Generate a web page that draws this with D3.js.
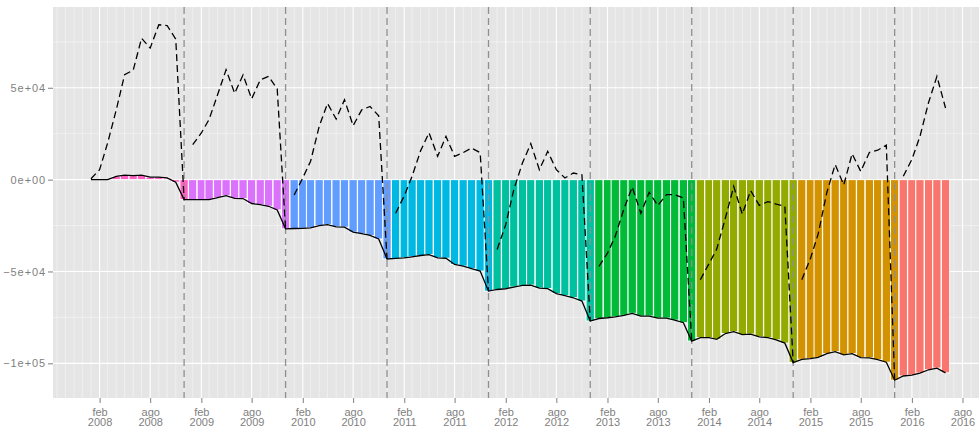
<!DOCTYPE html>
<html>
<head>
<meta charset="utf-8">
<script src="https://cdn.jsdelivr.net/npm/d3@7"></script>
<style>
  body { margin: 0; background: #fff; }
  svg { display: block; font-family: "Liberation Sans", Arial, sans-serif; }
</style>
</head>
<body>
<div id="chart"></div>
<script>
// one colour per year (ggplot hue palette, reversed)
const years = [2008, 2009, 2010, 2011, 2012, 2013, 2014, 2015, 2016];
const yearColors = ['#FF61C3', '#DB72FB', '#619CFF', '#00B9E3', '#00C19F', '#00BA38', '#93AA00', '#D39200', '#F8766D'];
const monthAbbr = ['ene', 'feb', 'mar', 'abr', 'may', 'jun', 'jul', 'ago', 'sep', 'oct', 'nov', 'dic'];

// monthly balance, Jan 2008 .. Jun 2016 (bars + solid line)
const balance = [
    0, 0, 0, 1800, 2500, 2200, 2500, 1400, 1400, 900, -1400, -10900,
    -10900, -10900, -10900, -9800, -8700, -10200, -10300, -13000, -13600, -14500, -16500, -26800,
    -26600, -26500, -26300, -25000, -24500, -25700, -25900, -28600, -29400, -30400, -32300, -43200,
    -42900, -42600, -42000, -41300, -40800, -42600, -42800, -46200, -47100, -48400, -49800, -60700,
    -59800, -59400, -58500, -57600, -57400, -59100, -59300, -62000, -63100, -64300, -66100, -77000,
    -75600, -75200, -74700, -73900, -72800, -74300, -74300, -75400, -75400, -76500, -77900, -87900,
    -86000, -86000, -86900, -83800, -82800, -84400, -84100, -85600, -86000, -87200, -89000, -99600,
    -97800, -97400, -96800, -94700, -93600, -95400, -94700, -96900, -97000, -98000, -99400, -109200,
    -106900, -106400, -105300, -103500, -102600, -105200
];

// within-year running figure (dashed line), same months
const yearRun = [
    500, 5400, 20000, 38000, 57100, 59600, 77000, 71600, 84300, 83900, 76500, -10900,
    19000, 25400, 32800, 46500, 59800, 47000, 57000, 44000, 54300, 56200, 49300, -26800,
    -8400, 1000, 10000, 29000, 41500, 33000, 43500, 29400, 38000, 39800, 34800, -43200,
    -18300, -8800, 1800, 15800, 25500, 12700, 23500, 12700, 14700, 17200, 14700, -60700,
    -38000, -24500, -5400, 9000, 19600, 5400, 15400, 5400, 900, 3600, 2700, -77000,
    -47300, -40000, -30800, -16000, -4000, -18300, -6900, -14100, -8200, -8200, -10000, -87900,
    -54500, -45800, -37800, -21000, -3700, -18800, -6000, -14000, -12000, -13300, -14500, -99600,
    -54500, -43000, -29500, -7000, 8200, -2900, 14100, 4500, 14800, 16000, 18800, -109200,
    1800, 11000, 23500, 42000, 56200, 39000
];

const yTickValues = [-100000, -50000, 0, 50000];
const yTickLabels = ['\u22121e+05', '\u22125e+04', '0e+00', '5e+04'];

const W = 979, H = 432;
const panel = { left: 53, top: 7, right: 983.5, bottom: 398 };
const DAY = 864e5;

const months = d3.utcMonth.range(new Date(Date.UTC(2008, 0, 1)), new Date(Date.UTC(2016, 6, 1)));
const rows = months.map((d, i) => ({ date: d, year: d.getUTCFullYear(), total: balance[i], run: yearRun[i] }));

// x extent as ggplot trains it: 0.9 * shortest month gap (28 days)
const barDays = 0.9 * 28;
const xlo = +months[0] - barDays / 2 * DAY;
const xhi = +months[months.length - 1] + barDays / 2 * DAY;
const xpad = 0.04 * (xhi - xlo);
const x = d3.scaleUtc()
    .domain([new Date(xlo - xpad), new Date(xhi + xpad)])
    .range([panel.left, panel.right]);

const ymin = d3.min([...balance, ...yearRun]);
const ymax = d3.max([...balance, ...yearRun]);
const ypad = 0.05 * (ymax - ymin);
const y = d3.scaleLinear()
    .domain([ymin - ypad, ymax + ypad])
    .range([panel.bottom, panel.top]);

const color = d3.scaleOrdinal().domain(years).range(yearColors);

const svg = d3.select('#chart').append('svg')
    .attr('width', W)
    .attr('height', H);

svg.append('clipPath').attr('id', 'clip')
    .append('rect')
    .attr('x', panel.left).attr('y', panel.top)
    .attr('width', panel.right - panel.left).attr('height', panel.bottom - panel.top);

const g = svg.append('g').attr('clip-path', 'url(#clip)');

// background
g.append('rect')
    .attr('x', panel.left).attr('y', panel.top)
    .attr('width', panel.right - panel.left).attr('height', panel.bottom - panel.top)
    .attr('fill', '#E5E5E5');

// grid
const [d0, d1] = x.domain();
const allMonths = d3.utcMonth.range(d3.utcMonth.ceil(d0), d1);
const isMajor = d => d.getUTCMonth() === 1 || d.getUTCMonth() === 7;
const xMajor = allMonths.filter(isMajor);
const xMinor = allMonths.filter(d => !isMajor(d));
const yMinor = [-75000, -25000, 25000, 75000];

g.append('g').selectAll('line').data(yMinor).join('line')
    .attr('x1', panel.left).attr('x2', panel.right)
    .attr('y1', d => y(d)).attr('y2', d => y(d))
    .attr('stroke', '#F2F2F2').attr('stroke-width', 0.8);
g.append('g').selectAll('line').data(xMinor).join('line')
    .attr('x1', d => x(d)).attr('x2', d => x(d))
    .attr('y1', panel.top).attr('y2', panel.bottom)
    .attr('stroke', '#F2F2F2').attr('stroke-width', 0.8);
g.append('g').selectAll('line').data(yTickValues).join('line')
    .attr('x1', panel.left).attr('x2', panel.right)
    .attr('y1', d => y(d)).attr('y2', d => y(d))
    .attr('stroke', '#fff').attr('stroke-width', 1.1);
g.append('g').selectAll('line').data(xMajor).join('line')
    .attr('x1', d => x(d)).attr('x2', d => x(d))
    .attr('y1', panel.top).attr('y2', panel.bottom)
    .attr('stroke', '#fff').attr('stroke-width', 1.1);

// bars, white outline
const barW = x(new Date(+months[0] + 30 * DAY)) - x(months[0]);
g.append('g').selectAll('rect').data(rows).join('rect')
    .attr('x', d => x(d.date) - barW / 2)
    .attr('width', barW)
    .attr('y', d => y(Math.max(0, d.total)))
    .attr('height', d => Math.abs(y(d.total) - y(0)))
    .attr('fill', d => color(d.year))
    .attr('stroke', '#fff')
    .attr('stroke-width', 1);

// year breaks (December)
const decs = rows.filter(d => d.date.getUTCMonth() === 11);
g.append('g').selectAll('line').data(decs).join('line')
    .attr('x1', d => x(d.date)).attr('x2', d => x(d.date))
    .attr('y1', panel.top).attr('y2', panel.bottom)
    .attr('stroke', '#8F8F8F')
    .attr('stroke-width', 1.3)
    .attr('stroke-dasharray', '7,4');

// solid line
const line = d3.line().x(d => x(d.date));
g.append('path')
    .datum(rows)
    .attr('fill', 'none')
    .attr('stroke', '#000')
    .attr('stroke-width', 1.3)
    .attr('d', line.y(d => y(d.total)));

// dashed line, one piece per year
const byYear = d3.groups(rows, d => d.year);
const runLine = d3.line().x(d => x(d.date)).y(d => y(d.run));
g.append('g').selectAll('path').data(byYear).join('path')
    .attr('fill', 'none')
    .attr('stroke', '#000')
    .attr('stroke-width', 1.3)
    .attr('stroke-dasharray', '7,4')
    .attr('d', d => runLine(d[1]));

// axes
const yAxis = svg.append('g')
    .attr('transform', `translate(${panel.left},0)`)
    .call(d3.axisLeft(y).tickValues(yTickValues).tickFormat((d, i) => yTickLabels[i]).tickSize(5).tickPadding(2));
yAxis.select('.domain').remove();
yAxis.selectAll('line').attr('stroke', '#7F7F7F');
yAxis.selectAll('text').attr('fill', '#7F7F7F').style('font-size', '11px').style('letter-spacing', '0.9px');

const xTicks = xMajor.filter(d => x(d) < W);
const xAxis = svg.append('g')
    .attr('transform', `translate(0,${panel.bottom})`)
    .call(d3.axisBottom(x).tickValues(xTicks).tickSize(5));
xAxis.select('.domain').remove();
xAxis.selectAll('line').attr('stroke', '#7F7F7F');
xAxis.selectAll('text').each(function (d) {
    const t = d3.select(this).text(null).attr('y', 0).attr('dy', null)
        .attr('fill', '#7F7F7F').style('font-size', '11px');
    t.append('tspan').attr('x', 0).attr('y', 17.5).text(monthAbbr[d.getUTCMonth()]);
    t.append('tspan').attr('x', 0).attr('y', 28).text(d.getUTCFullYear());
});
</script>
</body>
</html>
